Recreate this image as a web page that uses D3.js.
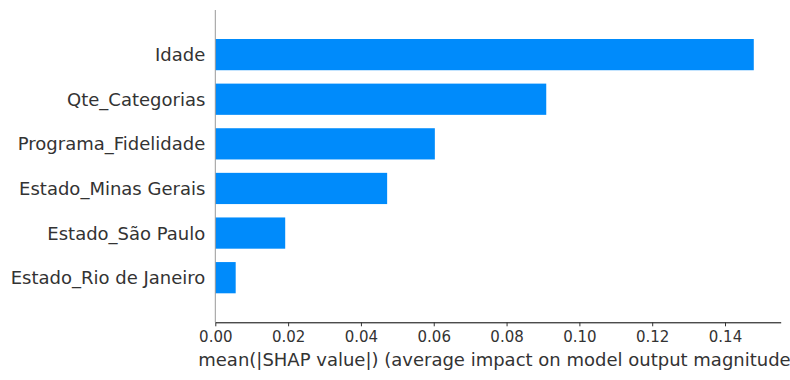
<!DOCTYPE html>
<html>
<head>
<meta charset="utf-8">
<script src="https://cdn.jsdelivr.net/npm/d3@7"></script>
<style>
  body { margin: 0; background: #fff; }
  svg { display: block; font-family: "DejaVu Sans", sans-serif; }
</style>
</head>
<body>
<div id="chart"></div>
<script>
// features from bottom (position 0) to top
const features = ['Estado_Rio de Janeiro', 'Estado_São Paulo', 'Estado_Minas Gerais', 'Programa_Fidelidade', 'Qte_Categorias', 'Idade'];
const shapValues = [0.0056, 0.0192, 0.0472, 0.0603, 0.0909, 0.1479];
const xTicks = [0, 0.02, 0.04, 0.06, 0.08, 0.10, 0.12, 0.14];
const xLabel = 'mean(|SHAP value|) (average impact on model output magnitude)';

const width = 790, height = 380;
const margin = { top: 10, right: 9.3, bottom: 57.7, left: 215.3 };

const svg = d3.select('#chart').append('svg')
  .attr('width', width)
  .attr('height', height);

const xscale = d3.scaleLinear()
  .domain([0, d3.max(shapValues) * 1.05])
  .range([margin.left, width - margin.right]);

// positions -1 .. n, like matplotlib ylim
const yscale = d3.scaleLinear()
  .domain([-1, features.length])
  .range([height - margin.bottom, margin.top]);

const barH = 0.7;

svg.append('g')
  .selectAll('rect')
  .data(shapValues)
  .enter().append('rect')
  .attr('x', xscale(0))
  .attr('y', (d, i) => yscale(i + barH / 2))
  .attr('width', d => xscale(d) - xscale(0))
  .attr('height', yscale(0) - yscale(barH))
  .attr('fill', '#008bfb');

// y labels
svg.append('g')
  .selectAll('text')
  .data(features)
  .enter().append('text')
  .attr('x', margin.left - 10)
  .attr('y', (d, i) => yscale(i))
  .attr('dy', '0.36em')
  .attr('text-anchor', 'end')
  .style('font-size', '18px')
  .style('fill', '#333333')
  .text(d => d);

// left spine
svg.append('line')
  .attr('x1', xscale(0)).attr('x2', xscale(0))
  .attr('y1', margin.top).attr('y2', height - margin.bottom)
  .attr('stroke', '#999999')
  .attr('stroke-width', 1);

// x axis
const xAxis = svg.append('g')
  .attr('transform', 'translate(0,' + (height - margin.bottom) + ')')
  .call(d3.axisBottom(xscale)
    .tickValues(xTicks)
    .tickFormat(d3.format('.2f'))
    .tickSize(4)
    .tickSizeOuter(0));

xAxis.select('.domain').attr('stroke', '#000').attr('stroke-width', 1);
xAxis.selectAll('.tick line').attr('stroke', '#333333');
xAxis.selectAll('.tick text')
  .attr('y', 9)
  .attr('dy', '0.71em')
  .style('font-size', '15px')
  .style('font-family', '"DejaVu Sans", sans-serif')
  .style('fill', '#333333');

svg.append('text')
  .attr('x', (xscale.range()[0] + xscale.range()[1]) / 2)
  .attr('y', 366)
  .attr('text-anchor', 'middle')
  .style('font-size', '18px')
  .style('fill', '#333333')
  .text(xLabel);
</script>
</body>
</html>
